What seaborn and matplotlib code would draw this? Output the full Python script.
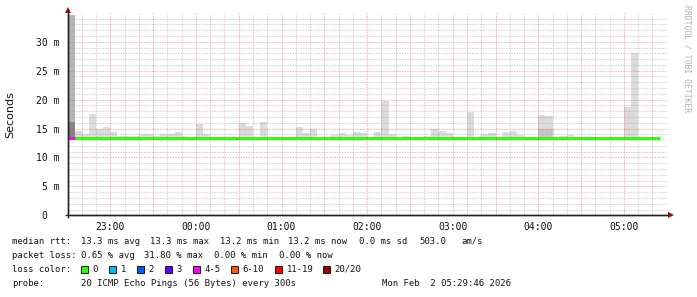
import matplotlib
matplotlib.use("Agg")
import matplotlib.pyplot as plt
import seaborn as sns
import numpy as np
import pandas as pd
from matplotlib.patches import Rectangle

# ---------------- data ----------------
step_minutes = 5                      # one smoke bar per 5-minute step (300 s)
xtick_minutes = [30, 90, 150, 210, 270, 330, 390]   # minutes after 22:30
xtick_labels = ["23:00", "00:00", "01:00", "02:00", "03:00", "04:00", "05:00"]
ytick_values = [0, 5, 10, 15, 20, 25, 30]
ytick_labels = ["0  ", "5 m", "10 m", "15 m", "20 m", "25 m", "30 m"]

# smoke: min / max of the 20 pings per step (ms)
smoke_lo = [13.1, 13.1, 13.1, 13.1, 13.1, 13.1, 13.1, 13.1, 13.1, 13.1,
            13.1, 13.1, 13.1, 13.1, 13.1, 13.1, 13.1, 13.1, 13.1, 13.1,
            13.1, 13.1, 13.1, 13.1, 13.1, 13.1, 13.1, 13.1, 13.1, 13.1,
            13.1, 13.1, 13.1, 13.1, 13.1, 13.1, 13.1, 13.1, 13.1, 13.1,
            13.1, 13.1, 13.1, 13.1, 13.1, 13.1, 13.1, 13.1, 13.1, 13.1,
            13.1, 13.1, 13.1, 13.1, 13.1, 13.1, 13.1, 13.1, 13.1, 13.1,
            13.1, 13.1, 13.1, 13.1, 13.1, 13.1, 13.1, 13.1, 13.1, 13.1,
            13.1, 13.1, 13.1, 13.1, 13.1, 13.1, 13.1, 13.1, 13.1, 13.1,
            13.1, 13.1, 13.1]
smoke_hi = [34.7, 14.6, 14.1, 17.5, 15.0, 15.2, 14.4, 13.7, 13.7, 13.7,
            14.0, 14.0, 13.7, 14.1, 14.1, 14.4, 13.7, 13.6, 15.8, 14.1,
            13.6, 13.5, 13.6, 13.6, 16.0, 15.4, 13.4, 16.1, 13.5, 13.5,
            13.5, 13.5, 15.3, 14.2, 14.9, 13.5, 13.5, 13.9, 14.2, 13.9,
            14.4, 14.2, 13.5, 14.4, 19.8, 14.0, 13.4, 13.7, 13.5, 13.5,
            13.7, 14.9, 14.6, 14.2, 13.5, 13.5, 17.8, 13.4, 14.1, 14.3,
            13.5, 14.4, 14.6, 13.9, 13.5, 13.5, 17.4, 17.2, 13.4, 13.7,
            13.9, 13.5, 13.5, 13.5, 13.5, 13.4, 13.5, 13.5, 18.8, 28.1,
            13.4, 13.5, 13.5]
# darker inner smoke band (step index -> upper value)
inner_steps = [0, 66, 67]
inner_hi = [16.2, 15.0, 15.0]

median_rtt = [13.3, 13.3, 13.3, 13.3, 13.3, 13.3, 13.3, 13.3, 13.3, 13.3,
              13.3, 13.3, 13.3, 13.3, 13.3, 13.3, 13.3, 13.3, 13.3, 13.3,
              13.3, 13.3, 13.3, 13.3, 13.3, 13.3, 13.3, 13.3, 13.3, 13.3,
              13.3, 13.3, 13.3, 13.3, 13.3, 13.3, 13.3, 13.3, 13.3, 13.3,
              13.3, 13.3, 13.3, 13.3, 13.3, 13.3, 13.3, 13.3, 13.3, 13.3,
              13.3, 13.3, 13.3, 13.3, 13.3, 13.3, 13.3, 13.3, 13.3, 13.3,
              13.3, 13.3, 13.3, 13.3, 13.3, 13.3, 13.3, 13.3, 13.3, 13.3,
              13.3, 13.3, 13.3, 13.3, 13.3, 13.3, 13.3, 13.3, 13.3, 13.3,
              13.3, 13.3, 13.3]
loss_count = [5] + [0] * 82           # lost pings of 20 per step

loss_labels = ["0", "1", "2", "3", "4-5", "6-10", "11-19", "20/20"]
loss_upper = [0, 1, 2, 3, 5, 10, 19, 20]
loss_colors = ["#26ff00", "#00b8ff", "#0059ff", "#5e00ff",
               "#ff00ff", "#ff5500", "#ff0000", "#a10000"]

stats_median = ["13.3 ms avg", "13.3 ms max", "13.2 ms min", "13.2 ms now",
                "0.0 ms sd", "503.0", "am/s"]
stats_loss = ["0.65 % avg", "31.80 % max", "0.00 % min", "0.00 % now"]
probe_text = "20 ICMP Echo Pings (56 Bytes) every 300s"
date_text = "Mon Feb  2 05:29:46 2026"

# ---------------- figure ----------------
W, H = 697, 297
sns.set_style("white")
plt.rcParams["font.family"] = ["DejaVu Sans Mono", "DejaVu Sans"]

fig = plt.figure(figsize=(W / 100, H / 100), dpi=100)
fig.patch.set_facecolor("white")

ax_l, ax_r, ax_b, ax_t = 67.5, 666.7, 215.3, 12.8
ax = fig.add_axes([ax_l / W, 1 - ax_b / H, (ax_r - ax_l) / W, (ax_b - ax_t) / H])
ax.set_facecolor("white")

n = len(smoke_hi)
df = pd.DataFrame({
    "t": np.arange(n) * step_minutes,
    "lo": smoke_lo,
    "hi": smoke_hi,
    "median": median_rtt,
    "loss": loss_count,
})

# smoke
outer_colors = ["#b6b6b6" if i == 0 else "#dcdcdc" for i in range(n)]
ax.bar(df["t"], df["hi"] - df["lo"], bottom=df["lo"], width=step_minutes,
       align="edge", color=outer_colors, linewidth=0, zorder=1)
inner_colors = ["#858585" if i == 0 else "#c6c6c6" for i in inner_steps]
ax.bar([i * step_minutes for i in inner_steps],
       [inner_hi[k] - smoke_lo[inner_steps[k]] for k in range(len(inner_steps))],
       bottom=[smoke_lo[i] for i in inner_steps], width=step_minutes,
       align="edge", color=inner_colors, linewidth=0, zorder=2)

# median line (stepped), coloured by loss
line_df = pd.concat([df[["t", "median"]],
                     pd.DataFrame({"t": [n * step_minutes], "median": [median_rtt[-1]]})],
                    ignore_index=True)
sns.lineplot(data=line_df, x="t", y="median", ax=ax, drawstyle="steps-post",
             color=loss_colors[0], linewidth=2.0, zorder=3,
             solid_capstyle="butt", solid_joinstyle="miter")


def loss_color(c):
    for up, col in zip(loss_upper, loss_colors):
        if c <= up:
            return col
    return loss_colors[-1]


for i in range(n):
    if loss_count[i] > 0:
        ax.hlines(median_rtt[i], df["t"][i], df["t"][i] + step_minutes,
                  colors=loss_color(loss_count[i]), linewidth=2.0, zorder=4)

# grid (drawn on top, as rrdtool does)
xmax, ymax = 420, 35
minor_c = (0.55, 0.55, 0.55, 0.36)
major_c = (0.88, 0.2, 0.2, 0.34)
dots = (0, (1.5, 1))
for m in range(10, xmax, 10):
    if m % 30:
        ax.axvline(m, color=minor_c, lw=0.75, ls=dots, zorder=5)
for m in range(30, xmax, 30):
    ax.axvline(m, color=major_c, lw=0.75, ls=dots, zorder=5)
for v in range(1, ymax):
    if v % 5:
        ax.axhline(v, color=minor_c, lw=0.75, ls=dots, zorder=5)
for v in range(5, ymax, 5):
    ax.axhline(v, color=major_c, lw=0.75, ls=dots, zorder=5)

ax.set_xlim(0, xmax)
ax.set_ylim(0, ymax)
ax.set_xticks(xtick_minutes)
ax.set_xticklabels(xtick_labels)
ax.set_yticks(ytick_values)
ax.set_yticklabels(ytick_labels)
ax.tick_params(axis="both", labelsize=7.0, labelcolor="#111111", color="#333333")
ax.tick_params(axis="y", direction="inout", length=4, width=0.8, pad=3.5)
ax.tick_params(axis="x", length=0, pad=5.0)
ax.set_xlabel("")
ax.set_ylabel("")

for s in ["top", "right"]:
    ax.spines[s].set_visible(False)
for s in ["left", "bottom"]:
    ax.spines[s].set_color("#222222")
    ax.spines[s].set_linewidth(1.0)
    ax.spines[s].set_zorder(6)
    ax.spines[s].set_capstyle("butt")

# axis extensions and arrows
arrow_c = "#8b1010"
ax.plot([-0.005, 1.006], [0, 0], transform=ax.transAxes, color="#222222",
        lw=1.0, clip_on=False, zorder=6, solid_capstyle="butt")
ax.plot([0, 0], [-0.015, 1.012], transform=ax.transAxes, color="#222222",
        lw=1.0, clip_on=False, zorder=6, solid_capstyle="butt")
ax.plot([1.0065], [0], transform=ax.transAxes, marker=">", ms=4.2,
        color=arrow_c, clip_on=False, zorder=7, markeredgewidth=0)
ax.plot([0], [1.012], transform=ax.transAxes, marker="^", ms=4.2,
        color=arrow_c, clip_on=False, zorder=7, markeredgewidth=0)

# ---------------- texts ----------------
def fx(x):
    return x / W


def fy(y):
    return 1 - y / H


fig.text(fx(10), fy(114.5), "Seconds", rotation=90, ha="center", va="center",
         fontsize=8, family="DejaVu Sans", color="#111111")
fig.text(fx(686.5), fy(5), "RRDTOOL / TOBI OETIKER", rotation=270,
         ha="center", va="top", fontsize=5.8, color="#b0b0b0")

fs = 6.4
tc = "#111111"
mx = [80.7, 150.0, 220.0, 288.3, 359.3, 419.0, 461.0]
fig.text(fx(12.3), fy(241), "median rtt:", fontsize=fs, va="center", color=tc)
for x, s in zip(mx, stats_median):
    fig.text(fx(x), fy(241), s, fontsize=fs, va="center", color=tc)

lx = [80.7, 144.3, 214.3, 278.7]
fig.text(fx(12.3), fy(255.5), "packet loss:", fontsize=fs, va="center", color=tc)
for x, s in zip(lx, stats_loss):
    fig.text(fx(x), fy(255.5), s, fontsize=fs, va="center", color=tc)

fig.text(fx(12.3), fy(269), "loss color:", fontsize=fs, va="center", color=tc)
box_x = [81, 109, 137, 165, 193, 231, 275, 323]
for x, lab, col in zip(box_x, loss_labels, loss_colors):
    fig.patches.append(Rectangle((fx(x), fy(272.5)), 6.5 / W, 7.0 / H,
                                 transform=fig.transFigure, facecolor=col,
                                 edgecolor="#000000", linewidth=0.6))
    fig.text(fx(x + 11.5), fy(269), lab, fontsize=fs, va="center", color=tc)

fig.text(fx(12.3), fy(283.5), "probe:", fontsize=fs, va="center", color=tc)
fig.text(fx(80.7), fy(283.5), probe_text, fontsize=fs, va="center", color=tc)
fig.text(fx(510.5), fy(283.5), date_text, fontsize=fs, va="center", ha="right", color=tc)

fig.savefig("out.png", dpi=100, facecolor="white")
